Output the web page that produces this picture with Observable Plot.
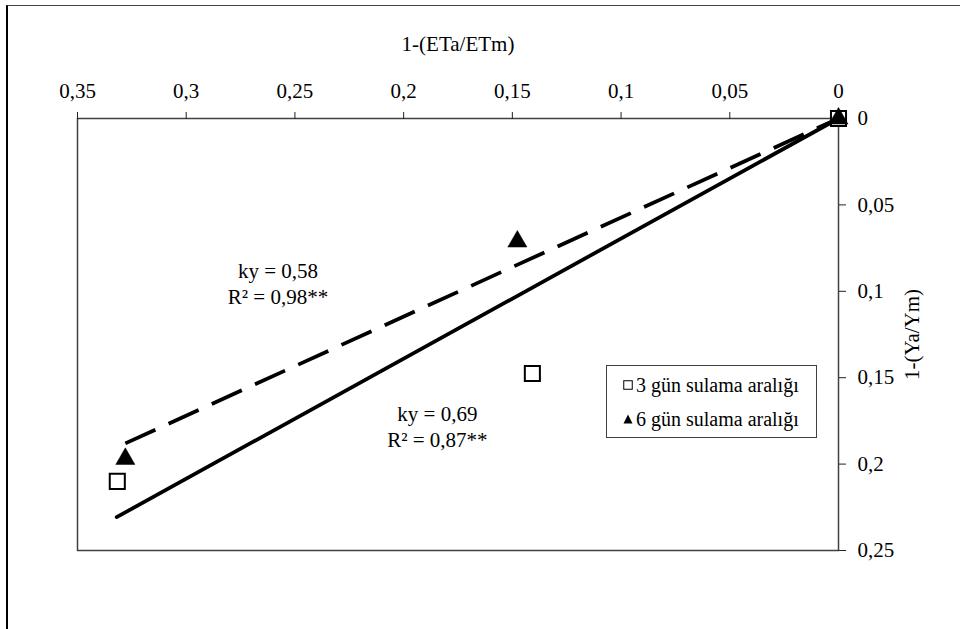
<!DOCTYPE html>
<html><head><meta charset="utf-8">
<script src="https://cdn.jsdelivr.net/npm/d3@7"></script>
<script src="https://cdn.jsdelivr.net/npm/@observablehq/plot@0.6"></script>
<style>
body{margin:0;background:#fff;width:960px;height:629px;overflow:hidden;position:relative;font-family:'Liberation Serif',serif}
#border{position:absolute;left:6px;top:5px;width:1000px;height:700px;border-left:2px solid #000;border-top:1px solid #444;box-sizing:border-box}
#chart{position:absolute;left:0;top:0}
#legend{position:absolute;left:606px;top:365px;width:211px;height:73px;border:1.5px solid #404040;box-sizing:border-box;background:#fff;font-size:20px;color:#000;font-family:'Liberation Serif',serif}
.row{position:absolute;left:16px;height:22px;line-height:22px;white-space:nowrap}
.row svg{vertical-align:middle;margin-right:3px;position:relative;top:-2px}
</style></head><body>
<div id="border"></div>
<div id="chart"></div>
<div id="legend"></div>
<script>
const xTicks = [0, 0.05, 0.1, 0.15, 0.2, 0.25, 0.3, 0.35];
const yTicks = [0, 0.05, 0.1, 0.15, 0.2, 0.25];
const series = ["3 gün sulama aralığı", "6 gün sulama aralığı"];
const etDeficit3 = [0, 0.1408, 0.3317];
const yieldLoss3 = [0, 0.1476, 0.210];
const etDeficit6 = [0, 0.1477, 0.328];
const yieldLoss6 = [0, 0.0712, 0.197];
const fitX3 = [0.332, 0];
const fitY3 = [0.2307, 0];
const fitX6 = [0.328, 0];
const fitY6 = [0.188, 0];
const annotations = ["ky = 0,69\nR² = 0,87**", "ky = 0,58\nR² = 0,98**"];
const annotX = [0.1845, 0.2578];
const annotY = [0.178, 0.095];

const SERIF = "'Liberation Serif', serif";
const pts3 = etDeficit3.map((x, i) => ({x, y: yieldLoss3[i]}));
const pts6 = etDeficit6.map((x, i) => ({x, y: yieldLoss6[i]}));
const fit3 = fitX3.map((x, i) => ({x, y: fitY3[i]}));
const fit6 = fitX6.map((x, i) => ({x, y: fitY6[i]}));
const notes = annotations.map((t, i) => ({t, x: annotX[i], y: annotY[i]}));
const fmt = d => String(d).replace(".", ",");

const chart = Plot.plot({
  width: 960, height: 629,
  marginLeft: 77, marginRight: 122, marginTop: 118, marginBottom: 79,
  style: {fontFamily: SERIF, fontSize: "21px", color: "#000", background: "transparent", overflow: "visible"},
  x: {domain: [0, 0.35], reverse: true},
  y: {domain: [0, 0.25], reverse: true},
  marks: [
    Plot.frame({stroke: "#404040", strokeWidth: 1.5}),
    Plot.axisX({anchor: "top", ticks: xTicks, tickFormat: fmt, tickSize: 7, tickPadding: 14, stroke: "#222", fontFamily: SERIF, label: "1-(ETa/ETm)", labelAnchor: "center", labelOffset: 82, labelArrow: "none"}),
    Plot.axisY({anchor: "right", ticks: yTicks, tickFormat: fmt, tickSize: 7, tickPadding: 12, stroke: "#222", fontFamily: SERIF, label: "1-(Ya/Ym)", labelAnchor: "center", labelOffset: 80, labelArrow: "none"}),
    Plot.line(fit3, {x: "x", y: "y", stroke: "#000", strokeWidth: 3.75, strokeLinecap: "round"}),
    Plot.line(fit6, {x: "x", y: "y", stroke: "#000", strokeWidth: 3.75, strokeDasharray: "33,14.5", strokeLinecap: "butt"}),
    Plot.dot(pts3, {x: "x", y: "y", symbol: "square", r: 8.5, fill: "#fff", stroke: "#000", strokeWidth: 2}),
    Plot.dot(pts6, {x: "x", y: "y", symbol: "triangle", r: 7.1, fill: "#000", stroke: "#000", strokeWidth: 0.5}),
    Plot.text(notes, {x: "x", y: "y", text: "t", lineAnchor: "middle", lineHeight: 1.22, fontSize: 21, fontFamily: SERIF, fill: "#000"})
  ]
});
chart.setAttribute("font-family", SERIF);
document.getElementById("chart").appendChild(chart);

const legend = document.getElementById("legend");
const icons = [
  '<svg width="10" height="10" viewBox="0 0 10 10"><rect x="0.75" y="0.75" width="8.5" height="8.5" fill="#fff" stroke="#000" stroke-width="1"/></svg>',
  '<svg width="10" height="10" viewBox="0 0 10 10"><path d="M5,0.5L9.5,9.5L0.5,9.5Z" fill="#000"/></svg>'
];
series.forEach((s, i) => {
  const row = document.createElement("div");
  row.className = "row";
  row.style.top = (i === 0 ? 8 : 42) + "px";
  row.innerHTML = icons[i] + s;
  legend.appendChild(row);
});
</script>
</body></html>
